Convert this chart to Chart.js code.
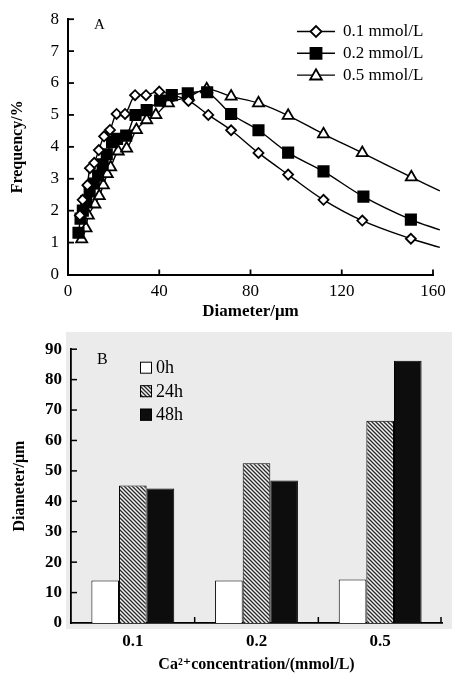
<!DOCTYPE html>
<html><head><meta charset="utf-8">
<script src="https://cdn.jsdelivr.net/npm/chart.js@4.4.0/dist/chart.umd.min.js"></script>
<style>
html,body{margin:0;padding:0;background:#fff;}
#wrap{position:relative;width:454px;height:676px;overflow:hidden;}
#cA{position:absolute;left:0;top:0;}
#cB{position:absolute;left:0;top:330px;}
</style></head><body>
<div id="wrap"><canvas id="cA" width="454" height="330"></canvas><canvas id="cB" width="454" height="346"></canvas></div>
<script>
// ---------- Panel A data ----------
const seriesNamesA = ['0.1 mmol/L', '0.2 mmol/L', '0.5 mmol/L'];
const xTicksA = [0, 40, 80, 120, 160];
const yTicksA = [0, 1, 2, 3, 4, 5, 6, 7, 8];
const diam01X = [5.2, 6.4, 8.5, 9.6, 11.5, 13.5, 15.8, 18.4, 21.3, 25.0, 29.4, 34.2, 40.0, 52.8, 61.5, 71.5, 83.5, 96.5, 112, 129, 150.3];
const diam01Y = [1.85, 2.34, 2.8, 3.33, 3.5, 3.9, 4.33, 4.53, 5.03, 5.03, 5.62, 5.62, 5.73, 5.44, 5.0, 4.52, 3.81, 3.13, 2.34, 1.69, 1.12];
const diam02X = [4.6, 5.5, 6.5, 8.0, 9.5, 11.3, 13.2, 15.2, 17.0, 19.3, 21.5, 25.5, 29.6, 34.5, 40.4, 45.5, 52.5, 61.0, 71.5, 83.5, 96.5, 112, 129.5, 150.3];
const diam02Y = [1.31, 1.75, 2.0, 2.3, 2.6, 2.85, 3.1, 3.45, 3.77, 4.15, 4.25, 4.35, 5.0, 5.15, 5.45, 5.62, 5.68, 5.71, 5.03, 4.52, 3.82, 3.23, 2.44, 1.72];
const diam05X = [6.0, 7.9, 8.9, 11.8, 13.7, 15.5, 17.2, 18.7, 22.0, 25.7, 30.0, 34.5, 38.5, 44.0, 52.8, 60.8, 71.5, 83.5, 96.5, 112, 129, 150.5];
const diam05Y = [1.11, 1.45, 1.85, 2.2, 2.46, 2.8, 3.15, 3.36, 3.86, 3.95, 4.53, 4.84, 5.0, 5.37, 5.57, 5.81, 5.58, 5.37, 4.98, 4.40, 3.81, 3.05];
// fitted curves continue past the last marker
const curveEndX = 163;
const curveEndY = [0.85, 1.4, 2.62];

// ---------- Panel B data ----------
const categoriesB = ['0.1', '0.2', '0.5'];
const seriesNamesB = ['0h', '24h', '48h'];
const h0 = [14.0, 14.0, 14.3];
const h24 = [45.2, 52.5, 66.5];
const h48 = [44.2, 46.8, 86.2];
const yTicksB = [0, 10, 20, 30, 40, 50, 60, 70, 80, 90];

const SERIF = "'Liberation Serif','DejaVu Serif','Times New Roman',serif";
const H = Chart.helpers;

function pts(xs, ys, endY) {
  const a = xs.map((x, i) => ({x: x, y: ys[i]}));
  a.push({x: curveEndX, y: endY});
  return a;
}

// hatch pattern
const pc = document.createElement('canvas'); pc.width = 4; pc.height = 4;
const pg = pc.getContext('2d');
pg.fillStyle = '#f2f2f2'; pg.fillRect(0, 0, 4, 4);
pg.strokeStyle = '#2a2a2a'; pg.lineWidth = 1.3;
pg.beginPath();
pg.moveTo(-1, -1); pg.lineTo(5, 5);
pg.moveTo(3, -1); pg.lineTo(5, 1);
pg.moveTo(-1, 3); pg.lineTo(1, 5);
pg.stroke();
const hatch = document.createElement('canvas').getContext('2d').createPattern(pc, 'repeat');

// inner tick marks
const innerTicks = {
  id: 'innerTicks',
  afterDatasetsDraw(chart, args, o) {
    const ctx = chart.ctx;
    ctx.save(); ctx.strokeStyle = '#000'; ctx.lineWidth = o.width || 1.5;
    (o.list || []).forEach(s => {
      const sc = chart.scales[s.id];
      const px = s.pixels ? s.pixels(sc) : s.values.map(v => sc.getPixelForValue(v));
      px.forEach(p => {
        ctx.beginPath();
        if (sc.isHorizontal()) { ctx.moveTo(p, sc.top); ctx.lineTo(p, sc.top - s.len); }
        else { ctx.moveTo(sc.right, p); ctx.lineTo(sc.right + s.len, p); }
        ctx.stroke();
      });
    });
    ctx.restore();
  }
};

const panelLabel = {
  id: 'panelLabel',
  afterDraw(chart, args, o) {
    const ctx = chart.ctx; ctx.save();
    ctx.fillStyle = '#000'; ctx.font = o.font; ctx.textBaseline = 'middle'; ctx.textAlign = 'left';
    ctx.fillText(o.text, chart.chartArea.left + o.dx, chart.chartArea.top + o.dy);
    ctx.restore();
  }
};

const legendA = {
  id: 'legendA',
  afterDraw(chart, args, o) {
    const ctx = chart.ctx; ctx.save();
    chart.data.datasets.forEach((ds, i) => {
      const y = o.y + i * o.dy;
      ctx.strokeStyle = '#000'; ctx.lineWidth = ds.borderWidth;
      ctx.beginPath(); ctx.moveTo(o.x, y); ctx.lineTo(o.x + o.len, y); ctx.stroke();
      ctx.fillStyle = ds.pointBackgroundColor; ctx.strokeStyle = '#000'; ctx.lineWidth = ds.pointBorderWidth;
      H.drawPoint(ctx, {pointStyle: ds.pointStyle, radius: ds.legendRadius, borderWidth: ds.pointBorderWidth, rotation: 0}, o.x + o.len / 2, y + (ds.pointStyle === 'triangle' ? 1 : 0));
      ctx.fillStyle = '#000'; ctx.font = o.font; ctx.textBaseline = 'middle'; ctx.textAlign = 'left';
      ctx.fillText(ds.label, o.x + o.len + o.gap, y);
    });
    ctx.restore();
  }
};

const legendB = {
  id: 'legendB',
  afterDraw(chart, args, o) {
    const ctx = chart.ctx; ctx.save();
    const a = chart.chartArea;
    chart.data.datasets.forEach((ds, i) => {
      const y = a.top + o.dy0 + i * o.dy;
      const x = a.left + o.dx;
      ctx.fillStyle = ds.backgroundColor; ctx.fillRect(x, y - o.box / 2, o.box, o.box);
      ctx.strokeStyle = '#000'; ctx.lineWidth = 1; ctx.strokeRect(x + 0.5, y - o.box / 2 + 0.5, o.box - 1, o.box - 1);
      ctx.fillStyle = '#000'; ctx.font = o.font; ctx.textBaseline = 'middle'; ctx.textAlign = 'left';
      ctx.fillText(ds.label, x + o.box + 4, y + 1);
    });
    ctx.restore();
  }
};

const greyBg = {
  id: 'greyBg',
  beforeDraw(chart) {
    const ctx = chart.ctx, a = chart.chartArea;
    ctx.save(); ctx.fillStyle = '#ebebeb';
    ctx.fillRect(a.left - 5, 2, chart.width - (a.left - 5) - 2, a.bottom + 6 - 2);
    ctx.restore();
  }
};

// ---------- Chart A ----------
const styleA = [
  {style: 'rectRot', r: 5, lr: 5.5, bg: '#fff'},
  {style: 'rect', r: 7.3, lr: 7.8, bg: '#000'},
  {style: 'triangle', r: 6.4, lr: 6.8, bg: '#fff'}
];
const dataA = [pts(diam01X, diam01Y, curveEndY[0]), pts(diam02X, diam02Y, curveEndY[1]), pts(diam05X, diam05Y, curveEndY[2])];

new Chart(document.getElementById('cA'), {
  type: 'line',
  data: {
    datasets: dataA.map((d, i) => ({
      label: seriesNamesA[i],
      data: d,
      borderColor: '#000',
      borderWidth: 1.4,
      tension: 0.35,
      pointStyle: styleA[i].style,
      pointRadius: (c) => c.dataIndex === d.length - 1 ? 0 : styleA[i].r,
      legendRadius: styleA[i].lr,
      pointBackgroundColor: styleA[i].bg,
      pointBorderColor: '#000',
      pointBorderWidth: 1.8,
      clip: false
    }))
  },
  options: {
    responsive: false, animation: false,
    layout: {padding: {left: 0, right: 21, top: 14, bottom: 0}},
    plugins: {
      legend: {display: false}, tooltip: {enabled: false},
      innerTicks: {width: 1.8, list: [{id: 'x', values: [40, 80, 120, 160], len: 5}, {id: 'y', values: [1, 2, 3, 4, 5, 6, 7, 8], len: 6}]},
      panelLabel: {text: 'A', font: '15px ' + SERIF, dx: 26, dy: 6},
      legendA: {x: 297, y: 31.5, dy: 21.8, len: 38, gap: 8, font: '17px ' + SERIF}
    },
    scales: {
      x: {
        type: 'linear', min: 0, max: 160,
        afterBuildTicks: (s) => { s.ticks = xTicksA.map(v => ({value: v})); },
        afterFit: (s) => { s.height = 55.5; },
        grid: {display: false, drawTicks: false},
        border: {display: true, color: '#000', width: 2},
        ticks: {color: '#000', padding: 7, maxRotation: 0, font: {family: SERIF, size: 17}},
        title: {display: true, text: 'Diameter/μm', color: '#000', font: {family: SERIF, size: 17, weight: 'bold'}, padding: {top: 0, bottom: 7.8}}
      },
      y: {
        type: 'linear', min: 0, max: 8,
        afterBuildTicks: (s) => { s.ticks = yTicksA.map(v => ({value: v})); },
        afterFit: (s) => { s.width = 68; },
        grid: {display: false, drawTicks: false},
        border: {display: true, color: '#000', width: 2},
        ticks: {color: '#000', padding: 9, font: {family: SERIF, size: 17}},
        title: {display: true, text: 'Frequency/%', color: '#000', font: {family: SERIF, size: 16, weight: 'bold'}, padding: {top: 8.4, bottom: 0}}
      }
    }
  },
  plugins: [innerTicks, panelLabel, legendA]
});

// ---------- Chart B ----------
new Chart(document.getElementById('cB'), {
  type: 'bar',
  data: {
    labels: categoriesB,
    datasets: [
      {label: seriesNamesB[0], data: h0, backgroundColor: '#ffffff'},
      {label: seriesNamesB[1], data: h24, backgroundColor: hatch},
      {label: seriesNamesB[2], data: h48, backgroundColor: '#0d0d0d'}
    ].map(d => Object.assign(d, {borderColor: '#000', borderWidth: 1, categoryPercentage: 0.67, barPercentage: 1.0}))
  },
  options: {
    responsive: false, animation: false,
    layout: {padding: {left: 0, right: 12, top: 16.7, bottom: 0}},
    plugins: {
      legend: {display: false}, tooltip: {enabled: false},
      innerTicks: {width: 1.5, list: [
        {id: 'x', len: 6, pixels: (sc) => [ (sc.getPixelForValue(0) + sc.getPixelForValue(1)) / 2, (sc.getPixelForValue(1) + sc.getPixelForValue(2)) / 2, sc.right - 1 ]},
        {id: 'y', values: [10, 20, 30, 40, 50, 60, 70, 80, 90], len: 6}
      ]},
      panelLabel: {text: 'B', font: '16px ' + SERIF, dx: 26, dy: 11},
      legendB: {dx: 69, dy0: 18.5, dy: 23.5, box: 12, font: '18px ' + SERIF}
    },
    scales: {
      x: {
        afterFit: (s) => { s.height = 53; },
        grid: {display: false, drawTicks: false},
        border: {display: true, color: '#000', width: 1.8},
        ticks: {color: '#000', padding: 8, maxRotation: 0, font: {family: SERIF, size: 17, weight: 'bold'}},
        title: {display: true, text: 'Ca²⁺concentration/(mmol/L)', color: '#000', font: {family: SERIF, size: 16, weight: 'bold'}, padding: {top: 0, bottom: 1.4}}
      },
      y: {
        min: 0, max: 90,
        afterBuildTicks: (s) => { s.ticks = yTicksB.map(v => ({value: v})); },
        afterFit: (s) => { s.width = 71; },
        grid: {display: false, drawTicks: false},
        border: {display: true, color: '#000', width: 1.8},
        ticks: {color: '#000', padding: 9, font: {family: SERIF, size: 17, weight: 'bold'}},
        title: {display: true, text: 'Diameter/μm', color: '#000', font: {family: SERIF, size: 16, weight: 'bold'}, padding: {top: 10.4, bottom: 0}}
      }
    }
  },
  plugins: [greyBg, innerTicks, panelLabel, legendB]
});
</script>
</body></html>
